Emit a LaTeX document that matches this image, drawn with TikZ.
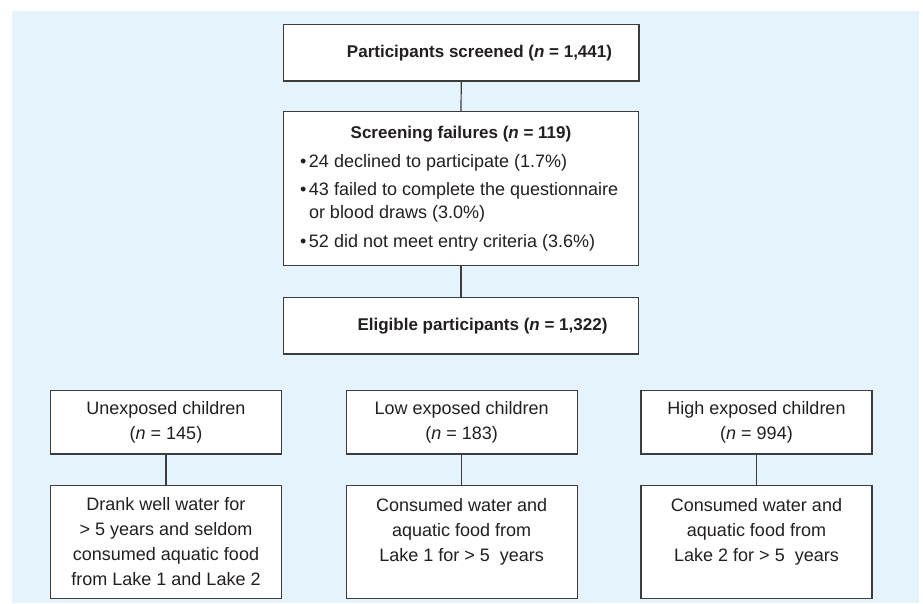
\documentclass[tikz,border=0pt]{standalone}
\usepackage{fontspec}
\setmainfont{Liberation Sans}
\definecolor{bgblue}{RGB}{229,244,252}
\definecolor{edge}{RGB}{60,60,60}
\definecolor{ink}{RGB}{35,31,32}
\tikzset{
  boxnode/.style={draw=edge, line width=1.2pt, fill=white, inner sep=0pt, text=ink,
    align=center, font=\fontsize{18}{25}\selectfont},
  headnode/.style={boxnode, minimum width=355.5pt, minimum height=56.5pt,
    font=\fontsize{17}{23}\selectfont\bfseries},
  groupnode/.style={boxnode, minimum width=231pt, minimum height=63.3pt,
    font=\fontsize{18}{24.3}\selectfont},
  descnode/.style={boxnode, minimum width=231pt, minimum height=113.4pt},
  link/.style={draw=edge, line width=1.2pt}
}
\begin{document}
\begin{tikzpicture}[x=1pt, y=-1pt]
\useasboundingbox (0,0) rectangle (923,603);
\fill[white] (0,0) rectangle (923,603);
\fill[bgblue] (12,11) rectangle (919,603);

\node[headnode] (screen) at (461.25,52.75)
  {\hspace*{36.5pt}Participants screened (\textit{n} = 1,441)};

\node[boxnode, minimum width=355.3pt, minimum height=154pt, align=left] (fail) at (461,188.7)
  {\parbox{322pt}{\fontsize{18}{23}\selectfont
   \makebox[322pt][c]{\fontsize{17}{23}\selectfont\bfseries Screening failures (\textit{n} = 119)}\\[6pt]
   \makebox[9pt][l]{•}24 declined to participate (1.7\%)\\[5pt]
   \makebox[9pt][l]{•}43 failed to complete the questionnaire\\
   \hspace*{9pt}or blood draws (3.0\%)\\[6pt]
   \makebox[9pt][l]{•}52 did not meet entry criteria (3.6\%)}};

\node[headnode, minimum width=355.3pt, minimum height=56.3pt] (elig) at (461,325.9)
  {\hspace*{43pt}Eligible participants (\textit{n} = 1,322)};

\node[groupnode] (g1) at (166,422.35) {Unexposed children\\(\textit{n} = 145)};
\node[groupnode] (g2) at (461.7,422.35) {Low exposed children\\(\textit{n} = 183)};
\node[groupnode] (g3) at (756.5,422.35) {High exposed children\\(\textit{n} = 994)};

\node[descnode] (d1) at (166,542) {Drank well water for\\> 5 years and seldom\\consumed aquatic food\\from Lake 1 and Lake 2};
\node[descnode] (d2) at (461.7,542) {Consumed water and\\aquatic food from\\Lake 1 for > 5~ years\\\mbox{}};
\node[descnode] (d3) at (756.5,542) {Consumed water and\\aquatic food from\\Lake 2 for > 5~ years\\\mbox{}};

\draw[link] (screen.south) -- (fail.north);
\draw[link] (fail.south) -- (elig.north);
\draw[link] (g1.south) -- (d1.north);
\draw[link] (g2.south) -- (d2.north);
\draw[link] (g3.south) -- (d3.north);
\end{tikzpicture}
\end{document}
